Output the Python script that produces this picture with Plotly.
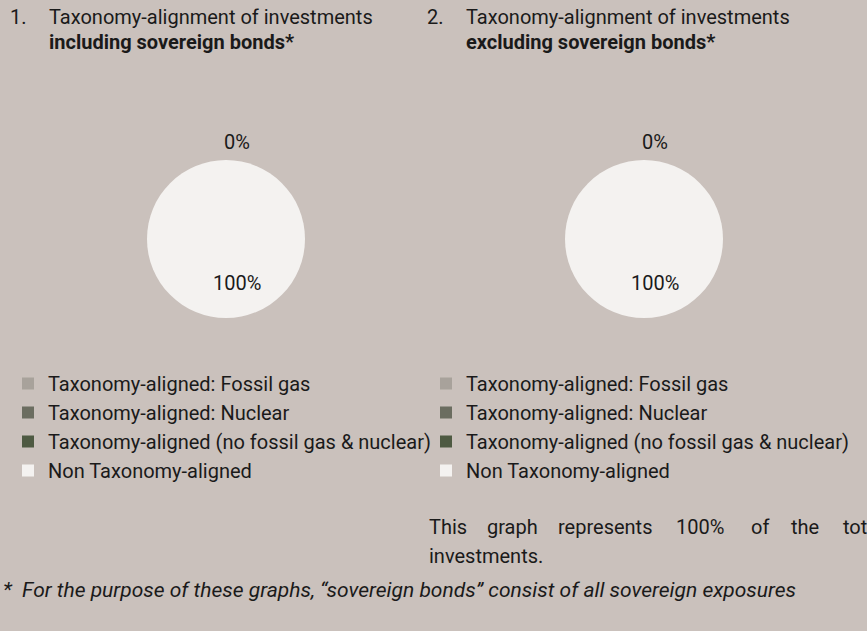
import plotly.graph_objects as go

BG = "#CAC1BC"
FONT = "Roboto, sans-serif"

labels = ["Taxonomy-aligned: Fossil gas", "Taxonomy-aligned: Nuclear",
          "Taxonomy-aligned (no fossil gas & nuclear)", "Non Taxonomy-aligned"]
colors = ["#A8A29B", "#6B6D60", "#4E5A42", "#F4F2F0"]
values_incl = [0, 0, 0, 100]
values_excl = [0, 0, 0, 100]
aligned_label = "0%"
non_aligned_label = "100%"

W, H = 867, 631

def dom(cx, cy, r):
    return dict(x=[(cx - r) / W, (cx + r) / W], y=[(H - cy - r) / H, (H - cy + r) / H])

fig = go.Figure()
fig.add_trace(go.Pie(labels=labels, values=values_incl, marker=dict(colors=colors, line=dict(width=0)),
                     textinfo="none", sort=False, direction="clockwise", domain=dom(226, 239, 79),
                     legend="legend", hoverinfo="label+percent"))
# zero-width space keeps the second legend's entries distinct from the first
fig.add_trace(go.Pie(labels=[l + "\u200b" for l in labels], values=values_excl,
                     marker=dict(colors=colors, line=dict(width=0)),
                     textinfo="none", sort=False, direction="clockwise", domain=dom(644, 239, 79),
                     legend="legend2", hoverinfo="label+percent"))

ann = []
def txt(x, y, t, size=20, italic=False, anchor="left"):
    ann.append(dict(x=x / W, y=1 - y / H, xref="paper", yref="paper", text=t, showarrow=False,
                    xanchor=anchor, yanchor="middle",
                    font=dict(family=FONT, size=size, color="#1a1a1a",
                              style="italic" if italic else "normal")))

txt(8, 17, "1.")
txt(47, 17, "Taxonomy-alignment of investments")
txt(47, 42, "<b>including sovereign bonds*</b>")
txt(425, 17, "2.")
txt(464, 17, "Taxonomy-alignment of investments")
txt(464, 42, "<b>excluding sovereign bonds*</b>")

for cx, vals in ((226, values_incl), (644, values_excl)):
    txt(cx + 11, 142, aligned_label, anchor="center")
    txt(cx + 11, 283, non_aligned_label, anchor="center")

words = ["This", "graph", "represents", "100%", "of", "the", "total"]
wx = [427, 485, 556, 674, 749, 789, 841]
for w, x in zip(words, wx):
    txt(x, 527, w)
txt(427, 556, "investments.")
txt(1, 590, "*  For the purpose of these graphs, \u201csovereign bonds\u201d consist of all sovereign exposures",
    size=21, italic=True)

legend_common = dict(font=dict(family=FONT, size=20, color="#1a1a1a"), bgcolor="rgba(0,0,0,0)",
                     orientation="v", xanchor="left", yanchor="top", itemclick=False,
                     itemdoubleclick=False, itemwidth=30, tracegroupgap=0)
fig.update_layout(
    width=W, height=H, paper_bgcolor=BG, plot_bgcolor=BG,
    margin=dict(l=0, r=0, t=0, b=0),
    annotations=ann,
    legend=dict(x=8 / W, y=1 - 364 / H, **legend_common),
    legend2=dict(x=426 / W, y=1 - 364 / H, **legend_common),
)
fig.write_html("out.html", config={"displayModeBar": False},
               post_script="document.body.style.margin='0';")
